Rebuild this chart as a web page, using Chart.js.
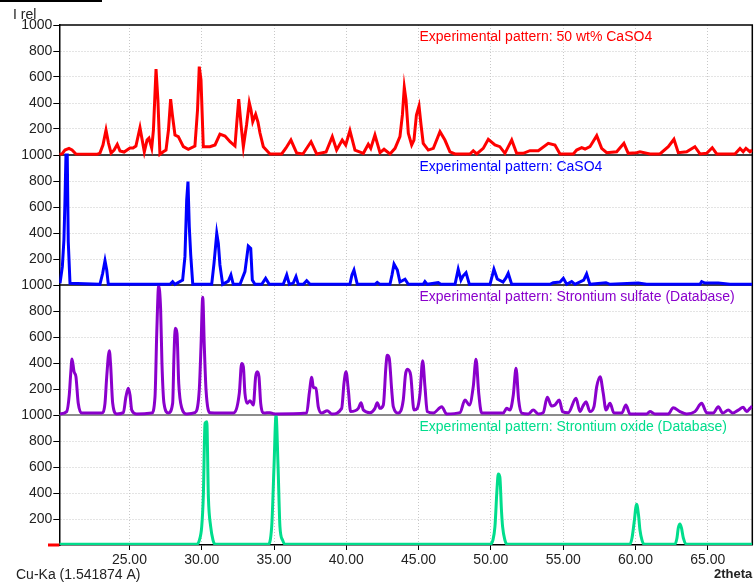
<!DOCTYPE html>
<html>
<head>
<meta charset="utf-8">
<title>XRD patterns</title>
<script src="https://cdn.jsdelivr.net/npm/chart.js@4.4.1/dist/chart.umd.min.js"></script>
<style>
  body { margin: 0; background: #fff; }
  #wrap { width: 756px; height: 587px; }
</style>
</head>
<body>
<div id="wrap"><canvas id="myChart" width="756" height="587"></canvas></div>
<script>
// 2theta range and tick positions
const thetaMin = 20.15;
const thetaMax = 68.08;
const xTicks = [25, 30, 35, 40, 45, 50, 55, 60, 65];

// each pattern: [2theta, relative intensity 0..1000]
const mixPattern = [
  [20.15,5],[20.34,8],[20.54,38],[20.82,51],[21.03,38],[21.30,8],[22.76,5],[22.96,15],[23.17,77],
  [23.38,192],[23.55,92],[23.73,15],[23.94,38],[24.16,82],[24.35,31],[24.63,23],[25.04,54],[25.25,54],
  [25.45,69],[25.73,210],[26.03,25],[26.22,115],[26.35,130],[26.54,54],[26.66,192],[26.84,661],
  [26.97,423],[27.11,5],[27.34,25],[27.53,38],[27.70,192],[27.85,430],[27.97,308],[28.15,154],
  [28.38,141],[28.73,64],[29.07,44],[29.53,69],[29.71,346],[29.83,680],[29.95,577],[30.11,64],
  [30.57,64],[30.92,77],[31.26,161],[31.61,146],[31.96,102],[32.30,69],[32.44,269],[32.56,430],
  [32.72,231],[32.88,64],[33.10,231],[33.29,402],[33.41,346],[33.53,256],[33.73,313],[33.89,254],
  [34.03,169],[34.26,64],[34.72,8],[35.53,8],[35.83,54],[36.17,115],[36.57,15],[37.00,8],[37.56,102],
  [37.95,8],[38.60,23],[39.03,141],[39.33,38],[39.72,115],[39.96,77],[40.25,187],[40.60,38],
  [41.18,13],[41.52,82],[41.69,51],[41.98,154],[42.33,18],[42.61,44],[43.02,8],[43.37,51],[43.71,141],
  [43.88,308],[44.01,520],[44.13,423],[44.29,167],[44.52,77],[44.68,115],[44.85,308],[45.03,377],
  [45.17,231],[45.32,90],[45.67,38],[46.02,51],[46.48,179],[46.82,115],[47.17,25],[47.52,8],
  [48.55,8],[48.78,33],[49.02,8],[49.47,51],[49.82,121],[50.28,77],[50.62,64],[50.97,13],[51.44,115],
  [51.78,13],[52.24,13],[52.70,33],[53.28,33],[53.97,90],[54.43,77],[54.78,8],[55.70,8],[55.93,38],
  [56.28,56],[56.51,46],[56.85,64],[57.32,149],[57.66,51],[58.01,18],[58.70,25],[59.20,90],[59.50,13],
  [60.08,18],[60.31,25],[61.00,8],[61.69,8],[62.27,64],[62.66,121],[62.96,18],[63.54,25],[64.11,64],
  [64.46,8],[64.92,13],[65.31,56],[65.62,8],[66.88,8],[67.23,51],[67.45,25],[67.64,51],[67.92,25],
  [68.08,38]
];

const caso4Pattern = [
  [20.20,13],[20.36,141],[20.47,346],[20.54,641],[20.61,1000],[20.70,1000],[20.77,333],[20.89,13],
  [22.96,5],[23.15,90],[23.31,187],[23.43,115],[23.54,5],[27.81,5],[27.99,26],[28.15,5],[28.68,38],
  [28.84,218],[28.96,654],[29.05,795],[29.14,449],[29.24,231],[29.38,5],[30.69,5],[30.85,167],
  [31.04,397],[31.15,320],[31.26,154],[31.45,5],[31.84,30],[32.02,77],[32.18,5],[32.65,5],[32.99,103],
  [33.22,300],[33.39,282],[33.50,38],[33.68,5],[34.15,5],[34.42,51],[34.67,5],[35.64,5],[35.88,77],
  [36.06,5],[36.33,15],[36.52,64],[36.68,5],[37.03,5],[37.26,33],[37.49,5],[40.25,5],[40.39,77],
  [40.53,115],[40.76,5],[41.98,5],[42.14,20],[42.33,5],[43.02,5],[43.16,77],[43.30,161],[43.53,115],
  [43.71,23],[44.06,44],[44.29,5],[45.32,5],[45.44,26],[45.60,5],[46.36,18],[46.53,5],[47.52,5],
  [47.74,121],[47.93,38],[48.07,69],[48.28,95],[48.51,5],[49.94,5],[50.21,121],[50.44,46],[50.84,23],
  [51.04,54],[51.20,90],[51.44,5],[54.09,5],[54.31,18],[54.78,23],[55.01,51],[55.24,5],[55.59,26],
  [55.82,5],[56.42,38],[56.62,85],[56.85,5],[57.96,18],[58.24,5],[60.19,15],[60.77,5],[64.46,5],
  [64.58,26],[64.81,15],[65.73,15],[66.53,5],[68.08,5]
];

const srso4Pattern = [
  [20.20,8],[20.66,26],[20.84,154],[20.94,321],[21.03,431],[21.17,333],[21.30,295],[21.46,90],
  [21.70,15],[23.08,15],[23.31,90],[23.43,295],[23.61,495],[23.70,385],[23.84,92],[24.12,8],
  [24.58,18],[24.76,141],[24.92,205],[25.04,154],[25.16,38],[25.50,8],[26.54,15],[26.77,141],
  [26.89,628],[27.02,992],[27.16,808],[27.25,397],[27.39,90],[27.69,15],[27.99,90],[28.08,448],
  [28.17,667],[28.29,628],[28.41,244],[28.62,54],[28.96,8],[29.53,18],[29.83,192],[29.95,525],
  [30.07,905],[30.18,525],[30.30,192],[30.57,18],[32.18,15],[32.60,167],[32.76,397],[32.88,372],
  [32.99,167],[33.15,90],[33.34,110],[33.57,77],[33.73,295],[33.84,333],[33.96,295],[34.08,90],
  [34.31,15],[34.72,18],[35.07,8],[37.26,15],[37.44,167],[37.61,290],[37.72,213],[37.90,205],
  [38.06,64],[38.30,15],[38.68,33],[38.99,8],[39.68,51],[39.84,244],[39.98,333],[40.14,192],
  [40.30,26],[40.83,51],[41.02,95],[41.18,38],[41.64,18],[41.98,51],[42.14,95],[42.33,51],[42.56,77],
  [42.74,372],[42.83,459],[42.97,436],[43.14,192],[43.25,64],[43.60,15],[43.94,115],[44.09,308],
  [44.22,351],[44.45,308],[44.68,38],[44.91,51],[45.10,167],[45.28,418],[45.44,218],[45.60,26],
  [46.02,15],[46.60,64],[46.94,8],[47.86,18],[48.21,115],[48.51,77],[48.78,218],[48.97,428],
  [49.16,167],[49.36,15],[50.86,15],[51.09,51],[51.32,38],[51.55,154],[51.74,359],[51.92,115],
  [52.13,15],[52.59,8],[52.93,38],[53.28,8],[53.62,18],[53.90,136],[54.20,69],[54.43,77],[54.73,115],
  [54.96,26],[55.35,18],[55.89,128],[56.16,26],[56.37,69],[56.58,102],[56.85,26],[57.13,64],
  [57.32,218],[57.55,295],[57.77,167],[57.96,38],[58.24,90],[58.51,15],[59.05,15],[59.34,77],
  [59.62,8],[60.77,8],[61.00,26],[61.35,8],[62.27,8],[62.61,56],[63.08,26],[63.54,8],[64.11,26],
  [64.58,90],[64.92,18],[65.38,15],[65.73,64],[66.03,15],[66.42,38],[66.72,15],[67.11,38],[67.45,59],
  [67.69,26],[67.92,51],[68.08,69]
];

const sroPattern = [
  [20.15,5],[29.65,5],[29.84,38],[30.00,141],[30.11,372],[30.23,936],[30.35,949],[30.46,372],
  [30.62,141],[30.78,38],[30.92,5],[34.58,5],[34.84,141],[35.00,603],[35.14,1000],[35.28,603],
  [35.41,141],[35.59,38],[35.76,5],[49.94,5],[50.14,38],[50.28,141],[50.42,423],[50.51,546],
  [50.62,523],[50.73,269],[50.81,141],[50.97,38],[51.11,5],[59.62,5],[59.76,54],[59.90,167],
  [60.08,313],[60.21,231],[60.31,115],[60.45,38],[60.59,5],[62.73,5],[62.87,54],[62.96,131],
  [63.08,162],[63.18,131],[63.31,54],[63.54,5],[68.08,5]
];

// stacked panels, top to bottom; each panel spans 1000 units
// measured scans are drawn as plain polylines, database patterns smoothed
const panels = [
  { label: 'Experimental pattern: 50 wt% CaSO4', color: '#ff0000', points: mixPattern, smooth: false },
  { label: 'Experimental pattern: CaSO4', color: '#0000ff', points: caso4Pattern, smooth: false },
  { label: 'Experimental pattern: Strontium sulfate (Database)', color: '#8a00cc', points: srso4Pattern, smooth: true },
  { label: 'Experimental pattern: Strontium oxide (Database)', color: '#00dd8c', points: sroPattern, smooth: true }
];
const panelSpan = 1000;
const FONT = "'Liberation Sans', Arial, sans-serif";

const datasets = panels.map((p, i) => {
  const offset = (panels.length - 1 - i) * panelSpan;
  const ds = {
    label: p.label,
    data: p.points.map(([t, v]) => ({ x: t, y: offset + v })),
    borderColor: p.color,
    backgroundColor: p.color,
    borderWidth: 3,
    pointRadius: 0,
    tension: 0,
    fill: false
  };
  if (p.smooth) ds.cubicInterpolationMode = 'monotone';
  return ds;
});

// panel dividers, frame and the free text around the plot
const decorations = {
  id: 'decorations',
  beforeDatasetsDraw(chart) {
    const { ctx, chartArea: a, scales: { y } } = chart;
    ctx.save();
    ctx.lineWidth = 1.5;
    for (let k = 1; k < panels.length; k++) {
      const py = y.getPixelForValue(k * panelSpan);
      ctx.strokeStyle = k === 1 ? '#666666' : '#000000';
      ctx.beginPath();
      ctx.moveTo(a.left, py);
      ctx.lineTo(a.right, py);
      ctx.stroke();
    }
    ctx.strokeStyle = '#000000';
    ctx.beginPath();
    ctx.moveTo(a.left, a.top);
    ctx.lineTo(a.right, a.top);
    ctx.lineTo(a.right, a.bottom);
    ctx.stroke();
    ctx.restore();
  },
  afterDraw(chart) {
    const { ctx, chartArea: a, scales: { y } } = chart;
    ctx.save();
    // little red marker at the origin
    ctx.strokeStyle = '#ff0000';
    ctx.lineWidth = 3;
    ctx.beginPath();
    ctx.moveTo(48, y.getPixelForValue(0));
    ctx.lineTo(a.left, y.getPixelForValue(0));
    ctx.stroke();
    // stub line in the top left corner
    ctx.strokeStyle = '#000000';
    ctx.lineWidth = 2;
    ctx.beginPath();
    ctx.moveTo(0, 1);
    ctx.lineTo(102, 1);
    ctx.stroke();

    ctx.textBaseline = 'middle';
    ctx.font = '14px ' + FONT;
    panels.forEach((p, i) => {
      const top = y.getPixelForValue((panels.length - i) * panelSpan);
      ctx.fillStyle = p.color;
      ctx.textAlign = 'left';
      ctx.fillText(p.label, 419.5, top + 12);
    });
    ctx.fillStyle = '#222222';
    ctx.textAlign = 'left';
    ctx.fillText('I rel', 13, 15);
    ctx.fillText('Cu-Ka (1.541874 A)', 16, 575);
    ctx.font = 'bold 13px ' + FONT;
    ctx.textAlign = 'right';
    ctx.fillText('2theta', a.right, 574);
    ctx.restore();
  }
};

const config = {
  type: 'line',
  data: { datasets },
  options: {
    responsive: false,
    animation: false,
    layout: { padding: { top: 25, right: 3.7, left: 0, bottom: 0 } },
    plugins: { legend: { display: false }, tooltip: { enabled: false } },
    scales: {
      x: {
        type: 'linear',
        min: thetaMin,
        max: thetaMax,
        afterBuildTicks: s => { s.ticks = xTicks.map(v => ({ value: v })); },
        afterFit: s => { s.height = 42; },
        ticks: {
          autoSkip: false,
          maxRotation: 0,
          padding: 2,
          color: '#222222',
          font: { family: FONT, size: 14 },
          callback: v => v.toFixed(2)
        },
        grid: { color: '#c8c8c8', tickColor: '#000000', tickLength: 5, lineWidth: 1 },
        border: { display: true, color: '#000000', width: 1.5, dash: [1, 2] }
      },
      y: {
        type: 'linear',
        min: 0,
        max: panels.length * panelSpan,
        afterFit: s => { s.width = 59.3; },
        ticks: {
          stepSize: 200,
          autoSkip: false,
          padding: 1,
          color: '#222222',
          font: { family: FONT, size: 14 },
          callback: v => v === 0 ? '' : (v % panelSpan === 0 ? String(panelSpan) : String(v % panelSpan))
        },
        grid: {
          color: ctx => (ctx.tick && ctx.tick.value % panelSpan === 0) ? 'rgba(0,0,0,0)' : '#c8c8c8',
          tickColor: '#000000',
          tickLength: 6,
          lineWidth: 1
        },
        border: { display: true, color: '#000000', width: 1.5, dash: [1, 2] }
      }
    }
  },
  plugins: [decorations]
};

const myChart = new Chart(document.getElementById('myChart'), config);
</script>
</body>
</html>
